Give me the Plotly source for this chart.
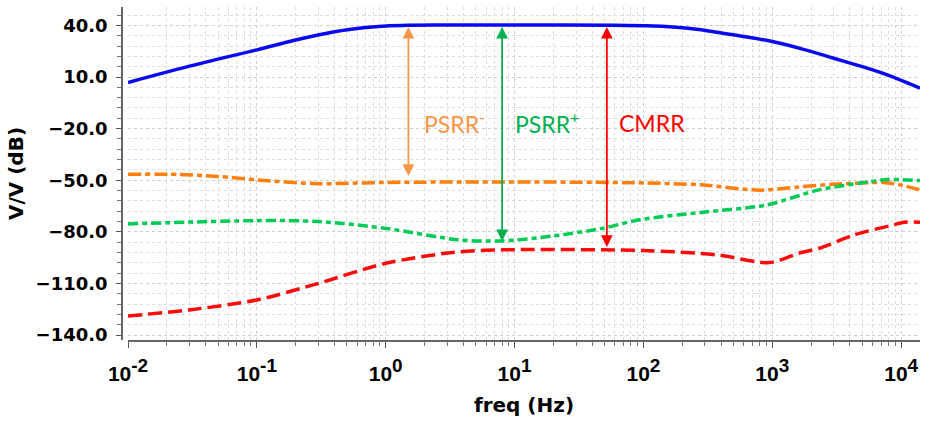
import plotly.graph_objects as go
import numpy as np

# ---- data ----
gain_f = [0.01, 0.03, 0.1, 0.2, 0.4, 0.7, 1, 1.5, 3, 10, 60, 120, 200, 320, 550, 1000, 1800, 3000, 5000, 7800, 14000]
gain_db = [6.8, 16.3, 25.8, 31.5, 36.3, 38.8, 39.7, 40.1, 40.2, 40.2, 40.1, 39.6, 38.6, 36.8, 34.0, 30.6, 25.8, 20.9, 16.0, 11.2, 3.5]

psrrm_f = [0.01, 0.025, 0.05, 0.1, 0.3, 1, 10, 100, 280, 800, 1600, 2950, 7200, 9800, 14000]
psrrm_db = [-46.5, -46.6, -47.8, -49.8, -52.0, -51.3, -51.0, -51.6, -52.7, -55.8, -53.9, -52.4, -51.4, -52.7, -55.6]

psrrp_f = [0.01, 0.1, 0.3, 1, 3.7, 8, 20, 48, 93, 300, 900, 2300, 5800, 7800, 14000]
psrrp_db = [-75.4, -73.5, -74.0, -78.0, -84.7, -85.3, -82.4, -78.0, -73.0, -68.5, -64.4, -55.6, -50.8, -49.6, -50.2]

cmrr_f = [0.01, 0.03, 0.1, 0.3, 1, 3.3, 8, 100, 370, 950, 1600, 2350, 4300, 8700, 10500, 14000]
cmrr_db = [-128.9, -125.4, -119.6, -110.0, -98.3, -92.0, -90.5, -90.9, -93.4, -97.9, -92.5, -89.4, -81.8, -76.0, -74.4, -74.4]

x_tickvals = [1e-2, 1e-1, 1e0, 1e1, 1e2, 1e3, 1e4]
x_exps = ["-2", "-1", "0", "1", "2", "3", "4"]
y_tickvals = [40, 10, -20, -50, -80, -110, -140]

# arrows: (freq, bottom dB, top dB, colour)
arrow_f = [1.5, 8.0, 52.0]
arrow_bottom = [-47.5, -85.5, -88.8]
arrow_top = [40.0, 40.0, 40.0]
arrow_colors = ["#F79646", "#00B050", "#FF0000"]
label_text = ["PSRR<sup>-</sup>", "PSRR<sup>+</sup>", "CMRR"]
label_f = [1.92, 9.8, 62.0]
label_db = -16.5

fig = go.Figure()

fig.add_trace(go.Scatter(x=gain_f, y=gain_db, mode="lines",
                         line=dict(color="#0A0AF0", width=3.5, shape="spline", smoothing=1.0),
                         showlegend=False))
fig.add_trace(go.Scatter(x=psrrm_f, y=psrrm_db, mode="lines",
                         line=dict(color="#FF7F0E", width=3.5, dash="13px,4px,5px,4px",
                                   shape="spline", smoothing=0.8),
                         showlegend=False))
fig.add_trace(go.Scatter(x=psrrp_f, y=psrrp_db, mode="lines",
                         line=dict(color="#00CC55", width=3.5, dash="10px,4px,5px,4px",
                                   shape="spline", smoothing=0.8),
                         showlegend=False))
fig.add_trace(go.Scatter(x=cmrr_f, y=cmrr_db, mode="lines",
                         line=dict(color="#FF0A0A", width=3.5, dash="14px,6px",
                                   shape="spline", smoothing=0.8),
                         showlegend=False))

for f, yb, yt, c in zip(arrow_f, arrow_bottom, arrow_top, arrow_colors):
    fig.add_annotation(x=np.log10(f), y=yb, ax=np.log10(f), ay=yt,
                       xref="x", yref="y", axref="x", ayref="y",
                       showarrow=True, arrowhead=2, startarrowhead=2,
                       arrowside="end+start", arrowsize=1.3, startarrowsize=1.3,
                       arrowwidth=1.8, arrowcolor=c, text="")

for t, f, c in zip(label_text, label_f, arrow_colors):
    fig.add_annotation(x=np.log10(f), y=label_db, xref="x", yref="y",
                       text=t, showarrow=False, xanchor="left", yanchor="middle",
                       font=dict(family="Lato", size=23, color=c))

x_ticktext = ['10<sup><span style="font-size:19px">%s</span></sup>' % e for e in x_exps]
x_minor = [m * 10.0 ** d for d in range(-2, 5) for m in range(2, 10) if m * 10.0 ** d <= 14500]

W, H = 936, 425
ml, mr, mt, mb = 122, 16, 7, 85
pw = W - ml - mr

fig.update_layout(
    width=W, height=H,
    margin=dict(l=ml, r=mr, t=mt, b=mb),
    paper_bgcolor="white", plot_bgcolor="white",
    showlegend=False,
    xaxis=dict(
        type="log", range=[-2.0, np.log10(14000)],
        domain=[6 / pw, 1],
        tickvals=x_tickvals, ticktext=x_ticktext,
        tickfont=dict(family="Liberation Sans", size=21, color="black", weight="bold"),
        ticks="outside", ticklen=6, tickcolor="#555", tickwidth=1,
        showline=True, linecolor="#666", linewidth=1.5,
        showgrid=True, gridcolor="#cfcfcf", griddash="dot", gridwidth=1,
        minor=dict(tickvals=x_minor, ticks="outside", ticklen=4, tickcolor="#777",
                   showgrid=True, gridcolor="#dcdcdc", griddash="dot", gridwidth=1),
        zeroline=False,
        title=dict(text="<b>freq (Hz)</b>", standoff=14,
                   font=dict(family="DejaVu Sans", size=20, color="black")),
        ticklabelstandoff=8,
    ),
    yaxis=dict(
        range=[-142.9, 50.7],
        anchor="free", position=0,
        tickvals=y_tickvals, tickformat=".1f",
        tickfont=dict(family="DejaVu Sans", size=18, color="black", weight="bold"),
        ticks="outside", ticklen=5, tickcolor="#555",
        showline=True, linecolor="#666", linewidth=1.5,
        showgrid=True, gridcolor="#cfcfcf", griddash="dot", gridwidth=1,
        minor=dict(dtick=6, tick0=40, ticks="outside", ticklen=4, tickcolor="#777",
                   showgrid=True, gridcolor="#dcdcdc", griddash="dot", gridwidth=1),
        zeroline=False,
        title=dict(text="<b>V/V (dB)</b>", standoff=6,
                   font=dict(family="DejaVu Sans", size=20, color="black")),
        ticklabelstandoff=5,
    ),
)

fig.write_html("out.html")
